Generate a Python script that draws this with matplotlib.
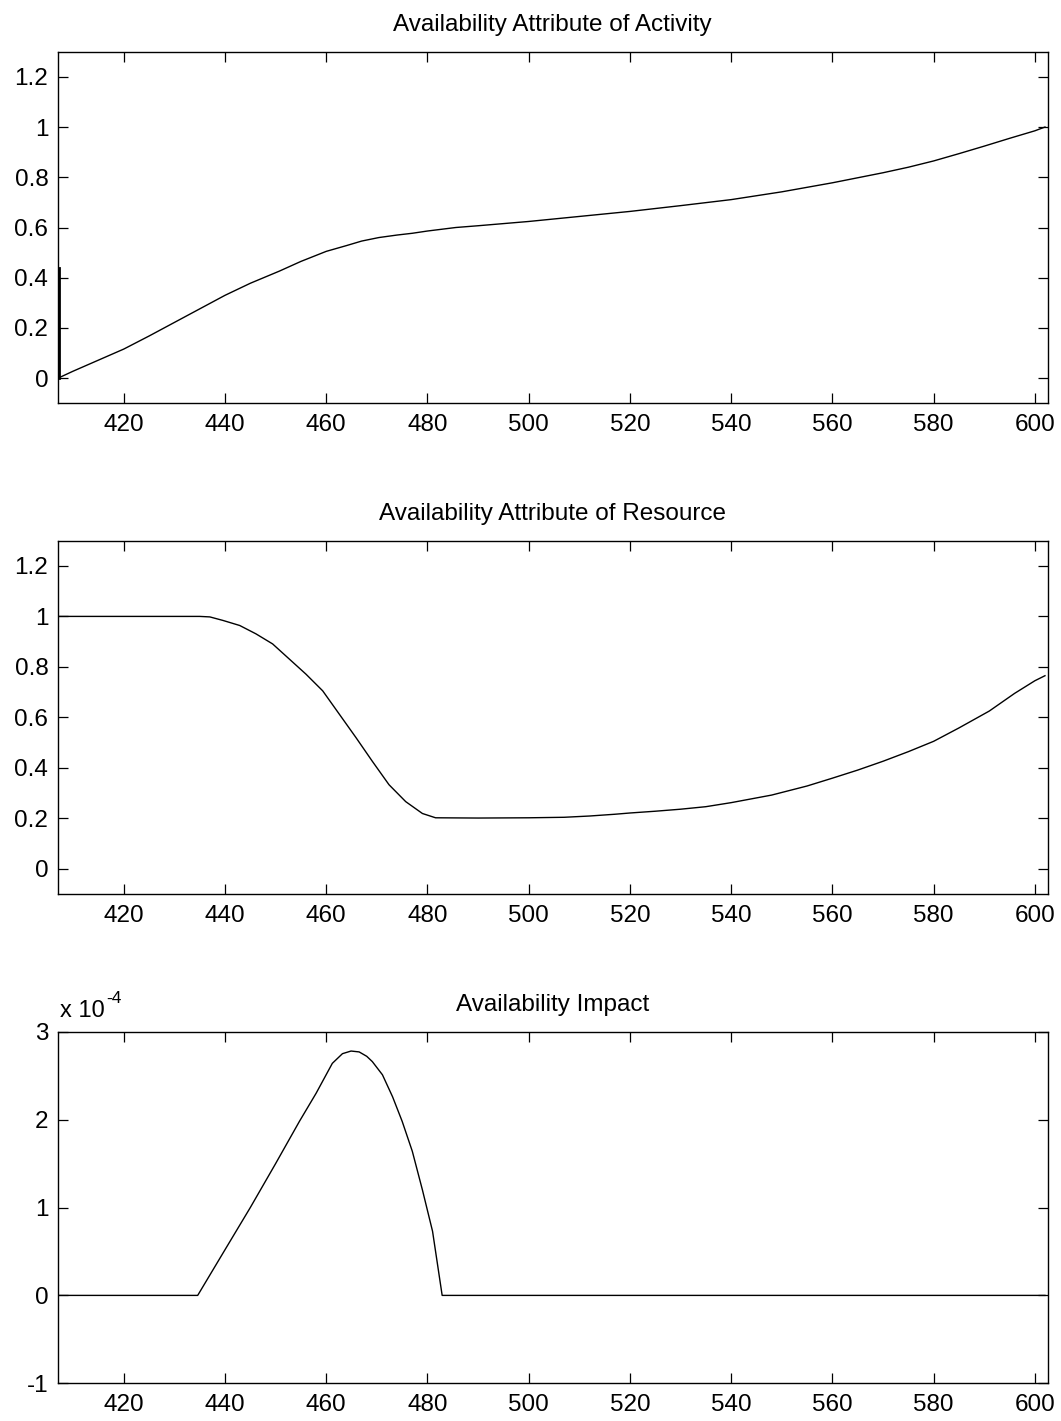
import matplotlib
matplotlib.use("Agg")
import matplotlib.pyplot as plt
from matplotlib.ticker import FuncFormatter, FixedLocator
from matplotlib.transforms import offset_copy

plt.rcParams['font.family'] = ['Liberation Sans', 'DejaVu Sans']

# ---- data ----
activity_x = [407, 410, 415, 420, 425, 430, 435, 440, 445, 450.7, 455, 460, 464, 467, 470.4,
              474, 477, 480, 485.6, 490, 500, 510, 520, 530, 540, 550, 560, 570, 575, 580,
              585, 590, 595, 600, 602]
activity_y = [0.0, 0.028, 0.072, 0.116, 0.168, 0.222, 0.276, 0.330, 0.378, 0.426, 0.465,
              0.505, 0.528, 0.546, 0.560, 0.570, 0.577, 0.586, 0.600, 0.607, 0.624, 0.644,
              0.664, 0.687, 0.711, 0.742, 0.778, 0.818, 0.840, 0.865, 0.894, 0.924, 0.955,
              0.985, 1.0]
spike_x = [407.2, 407.2]
spike_y = [0.0, 0.437]

resource_x = [407, 420, 430, 435, 437, 439.6, 442.9, 446.1, 449.4, 452.7, 456, 459.3, 462.6,
              465.9, 469.1, 472.4, 475.7, 479, 481.6, 490, 500, 507, 512, 517, 520, 525, 530,
              535, 540, 548, 555, 560, 565, 570, 575, 580, 585, 591, 596, 600, 602]
resource_y = [1.0, 1.0, 1.0, 1.0, 0.998, 0.984, 0.964, 0.931, 0.891, 0.831, 0.771, 0.705,
              0.612, 0.519, 0.426, 0.333, 0.266, 0.219, 0.202, 0.201, 0.202, 0.204, 0.209,
              0.216, 0.221, 0.228, 0.236, 0.246, 0.262, 0.292, 0.328, 0.359, 0.391, 0.426,
              0.464, 0.505, 0.558, 0.625, 0.695, 0.745, 0.765]

impact_x = [407, 420, 434.6, 440, 445, 450, 454.7, 458, 461.2, 463.2, 464.9, 466.5, 468,
            469.1, 471.1, 473.1, 475, 477, 479, 481, 482.9, 490, 520, 560, 602]
impact_y = [0, 0, 0, 0.52e-4, 1.0e-4, 1.5e-4, 1.98e-4, 2.30e-4, 2.64e-4, 2.75e-4, 2.78e-4,
            2.77e-4, 2.72e-4, 2.66e-4, 2.51e-4, 2.26e-4, 1.98e-4, 1.64e-4, 1.20e-4, 0.73e-4,
            0.0, 0, 0, 0, 0]

x_ticks = [420, 440, 460, 480, 500, 520, 540, 560, 580, 600]
y_ticks_attr = [0, 0.2, 0.4, 0.6, 0.8, 1.0, 1.2]
y_ticks_impact = [-1e-4, 0, 1e-4, 2e-4, 3e-4]

titles = ["Availability Attribute of Activity",
          "Availability Attribute of Resource",
          "Availability Impact"]

# ---- figure ----
W, H = 1061, 1421
fig = plt.figure(figsize=(W / 100, H / 100), dpi=100)

def px_axes(top, bottom, left=58, right=1047.5):
    return [left / W, 1 - bottom / H, (right - left) / W, (bottom - top) / H]

ax1 = fig.add_axes(px_axes(51.7, 403.3))
ax2 = fig.add_axes(px_axes(540.7, 894.0))
ax3 = fig.add_axes(px_axes(1031.7, 1383.3))

FS = 17.5
lw = 1.0

ax1.plot(activity_x, activity_y, color='black', lw=lw)
ax1.plot(spike_x, spike_y, color='black', lw=2.0)
ax2.plot(resource_x, resource_y, color='black', lw=lw)
ax3.plot(impact_x, impact_y, color='black', lw=lw)

for ax, title in zip([ax1, ax2, ax3], titles):
    ax.set_xlim(407, 602.5)
    ax.xaxis.set_major_locator(FixedLocator(x_ticks))
    ax.set_title(title, fontsize=FS, pad=15)
    ax.tick_params(direction='in', length=7, width=0.9, top=True, right=True,
                   labelsize=FS, pad=7)
    ax.tick_params(axis='x', pad=8)
    for s in ax.spines.values():
        s.set_linewidth(1.0)

for ax in [ax1, ax2]:
    ax.set_ylim(-0.1, 1.3)
    ax.yaxis.set_major_locator(FixedLocator(y_ticks_attr))
    ax.yaxis.set_major_formatter(FuncFormatter(lambda v, p: '%g' % round(v, 3)))

ax3.set_ylim(-1e-4, 3e-4)
ax3.yaxis.set_major_locator(FixedLocator(y_ticks_impact))
ax3.yaxis.set_major_formatter(FuncFormatter(lambda v, p: '%g' % round(v / 1e-4, 3)))

# "x 10^-4" multiplier label above the bottom axes
tr_base = offset_copy(ax3.transAxes, fig=fig, x=1.5, y=15 * 0.72, units='points')
ax3.text(0.0, 1.0, 'x 10', transform=tr_base, fontsize=FS - 0.5,
         ha='left', va='baseline')
tr_exp = offset_copy(ax3.transAxes, fig=fig, x=48 * 0.72, y=29 * 0.72, units='points')
ax3.text(0.0, 1.0, '-4', transform=tr_exp, fontsize=12.5, ha='left', va='baseline')

fig.savefig('out.png', dpi=100, facecolor='white')
